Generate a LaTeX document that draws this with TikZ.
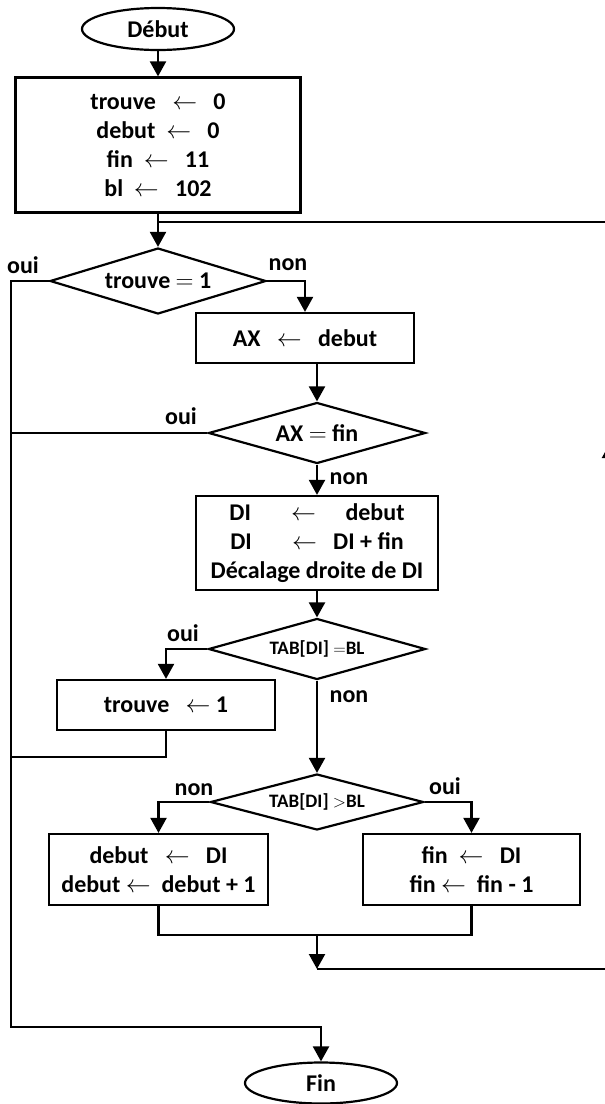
\documentclass[tikz,border=0pt]{standalone}
\usepackage{fontspec}
\setmainfont{Carlito}
\usetikzlibrary{shapes.geometric,arrows.meta}
\begin{document}
\begin{tikzpicture}[x=1pt,y=-1pt,
  line width=2.2pt,
  every node/.style={font=\fontsize{24}{29}\selectfont\bfseries},
  box/.style={draw, rectangle, inner sep=0pt, align=center, line width=2.2pt},
  term/.style={draw, ellipse, inner sep=0pt, line width=2.2pt},
  dec/.style={draw, diamond, inner sep=0pt, aspect=3.5, line width=2.2pt},
  lbl/.style={inner sep=0pt},
  smalltxt/.style={font=\fontsize{19}{22}\selectfont\bfseries},
  arr/.style={-{Triangle[width=16pt,length=15pt]}}
]
\useasboundingbox (0,0) rectangle (605,1104);

% nodes
\node[term, minimum width=152pt, minimum height=42pt] (start) at (158,29) {Début};
\node[box, minimum width=285pt, minimum height=135pt] (init) at (158,145)
  {trouve ~~$\leftarrow$~~ 0\\ debut ~$\leftarrow$~~ 0\\ fin ~$\leftarrow$~~ 11\\ bl ~$\leftarrow$~~ 102};
\node[dec, minimum width=216pt, minimum height=66pt] (d1) at (158,281) {trouve $=$ 1};
\node[box, minimum width=218pt, minimum height=50pt] (ax) at (305,338) {AX ~~$\leftarrow$~~ debut};
\node[dec, minimum width=217pt, minimum height=61pt] (d2) at (317,433) {AX $=$ fin};
\node[box, minimum width=242pt, minimum height=94pt] (di) at (317,543)
  {DI \quad~ $\leftarrow$ \quad debut\\ DI \quad~ $\leftarrow$ ~~DI + fin\\ Décalage droite de DI};
\node[dec, smalltxt, minimum width=217pt, minimum height=61pt] (d3) at (317,649) {TAB[DI] $=$BL};
\node[box, minimum width=218pt, minimum height=50pt] (t1) at (166,705) {trouve ~~$\leftarrow$ 1};
\node[dec, smalltxt, minimum width=213pt, minimum height=56pt] (d4) at (317,802) {TAB[DI] $>$BL};
\node[box, minimum width=219pt, minimum height=71pt] (b1) at (158.5,869.5)
  {debut ~~$\leftarrow$~~ DI\\ debut $\leftarrow$~ debut + 1};
\node[box, minimum width=217pt, minimum height=71pt] (b2) at (471.5,869.5)
  {fin ~$\leftarrow$~~ DI\\ fin $\leftarrow$~ fin - 1};
\node[term, minimum width=152pt, minimum height=41pt] (end) at (321,1083) {Fin};

% labels
\node[lbl] (l1o) at (23,265) {oui};
\node[lbl] (l1n) at (288,265) {non};
\node[lbl] (l2o) at (181,416) {oui};
\node[lbl] (l2n) at (349,479) {non};
\node[lbl] (l3o) at (183,633) {oui};
\node[lbl] (l3n) at (349,697) {non};
\node[lbl] (l4n) at (194,790) {non};
\node[lbl] (l4o) at (445,786) {oui};

% coordinates
\coordinate (j1) at (158,222);
\coordinate (Ltop) at (11,281);
\coordinate (Lmid) at (11,757);
\coordinate (Lbot) at (11,1027);
\coordinate (m) at (317,935);
\coordinate (m2) at (317,969);
\coordinate (R2) at (610,969);
\coordinate (Ra) at (610,443);
\coordinate (R1) at (610,222);

% connectors
\draw[arr] (start.south) -- (init.north);
\draw[arr] (init.south) -- (d1.north);
\draw[arr] (d1.east) -| (ax.north);
\draw[arr] (ax.south -| d2.north) -- (d2.north);
\draw[arr] (d1.west) -- (Ltop) -- (Lbot) -| (end.north);
\draw (d2.west) -- (d2.west -| Ltop);
\draw[arr] (d2.south) -- (di.north);
\draw[arr] (di.south) -- (d3.north);
\draw[arr] (d3.west) -| (t1.north);
\draw (t1.south) |- (Lmid);
\draw[arr] (d3.south) -- (d4.north);
\draw[arr] (d4.west) -| (b1.north);
\draw[arr] (d4.east) -| (b2.north);
\draw (b1.south) |- (m) -| (b2.south);
\draw[arr] (m) -- (m2);
\draw[arr] (m2) -- (R2) -- (Ra);
\draw (Ra) -- (R1) -- (j1);
\end{tikzpicture}
\end{document}
